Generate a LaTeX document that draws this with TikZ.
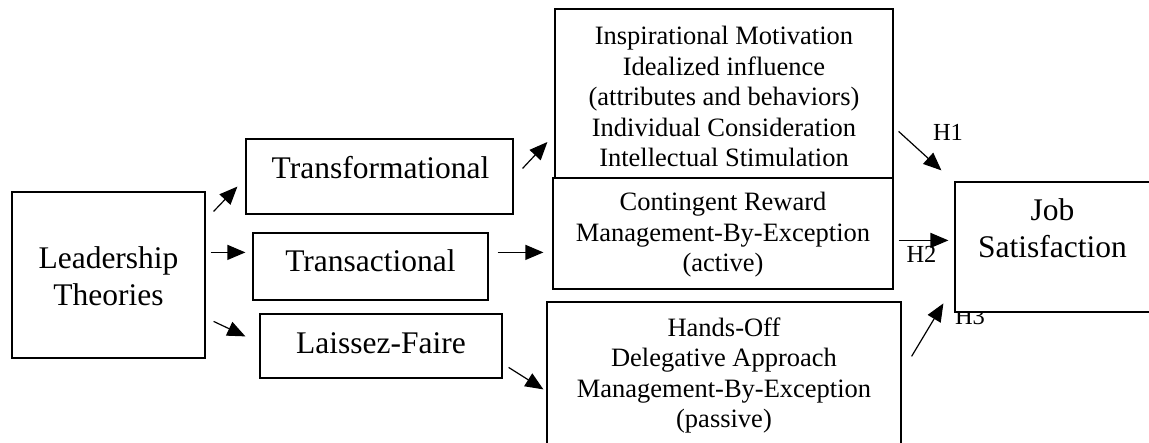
\documentclass[tikz,border=0pt]{standalone}
\usepackage{fontspec}
\setmainfont{Liberation Serif}
\usetikzlibrary{arrows.meta}

\tikzset{
  box/.style={draw=black, line width=1.2pt, fill=white, rectangle, inner sep=0pt},
  bigtext/.style={font=\fontsize{31.5}{37}\selectfont, align=center, inner sep=0pt, anchor=base},
  smalltext/.style={font=\fontsize{26.5}{30.5}\selectfont, align=center, inner sep=0pt, anchor=base},
  htext/.style={font=\fontsize{24.5}{28}\selectfont, inner sep=0pt, anchor=base},
  arr/.style={line width=1.2pt, -{Triangle[length=18pt, width=15pt]}}
}

\begin{document}
\begin{tikzpicture}[x=1pt, y=-1pt]
  \useasboundingbox (0,0) rectangle (1149,443);
  \clip (0,0) rectangle (1149,443);

  % theory boxes on the left (multi-line texts are placed by their last baseline)
  \node[box, minimum width=193pt, minimum height=166pt] (lead) at (108.5,275) {};
  \node[bigtext] (leadT) at (108.5,306) {Leadership\\Theories};

  \node[box, minimum width=267pt, minimum height=75pt] (trf) at (379.5,176.5) {};
  \node[bigtext] (trfT) at (380.5,179) {Transformational};

  \node[box, minimum width=235pt, minimum height=67pt] (trc) at (370.5,266.5) {};
  \node[bigtext] (trcT) at (370.5,272) {Transactional};

  \node[box, minimum width=242pt, minimum height=64pt] (lft) at (381,346) {};
  \node[bigtext] (lftT) at (381,354) {Laissez-Faire};

  % behaviour boxes in the middle
  \node[box, minimum width=338pt, minimum height=181pt] (insp) at (724,99.5) {};
  \node[smalltext] (inspT) at (724,167) {Inspirational Motivation\\Idealized influence\\(attributes and behaviors)\\Individual Consideration\\Intellectual Stimulation};

  \node[box, minimum width=340pt, minimum height=111pt] (cont) at (723,233.5) {};
  \node[smalltext] (contT) at (723,272) {Contingent Reward\\Management-By-Exception\\(active)};

  \node[box, minimum width=354pt, minimum height=158pt] (hof) at (724,381) {};
  \node[smalltext] (hofT) at (724,428) {Hands-Off\\Delegative Approach\\Management-By-Exception\\(passive)};

  % hypothesis labels (H3 sits partly behind the outcome box)
  \node[htext] (h1) at (948,141) {H1};
  \node[htext] (h2) at (921.5,263) {H2};
  \node[htext] (h3) at (970,325) {H3};

  % outcome box
  \node[box, minimum width=205pt, minimum height=130pt] (job) at (1057.5,247) {};
  \node[bigtext] (jobT) at (1052.5,258) {Job\\Satisfaction};

  % connectors
  \draw[arr] ([shift={(8,20)}]lead.north east) -- ([shift={(-8,-28)}]trf.south west);
  \draw[arr] ([shift={(5,61)}]lead.north east) -- ([shift={(-7,20)}]trc.north west);
  \draw[arr] ([shift={(8,130)}]lead.north east) -- ([shift={(-14,23)}]lft.north west);

  \draw[arr] ([shift={(9,30)}]trf.north east) -- ([shift={(-7,42.5)}]insp.west);
  \draw[arr] ([shift={(9,20)}]trc.north east) -- ([shift={(-9,75)}]cont.north west);
  \draw[arr] ([shift={(6,54)}]lft.north east) -- ([shift={(-3,88)}]hof.north west);

  \draw[arr] ([shift={(5,123)}]insp.north east) -- ([shift={(-13,-11)}]job.north west);
  \draw[arr] ([shift={(5,63)}]cont.north east) -- ([shift={(-6,59)}]job.north west);
  \draw[arr] ([shift={(10,55)}]hof.north east) -- ([shift={(-11,122)}]job.north west);
\end{tikzpicture}
\end{document}
